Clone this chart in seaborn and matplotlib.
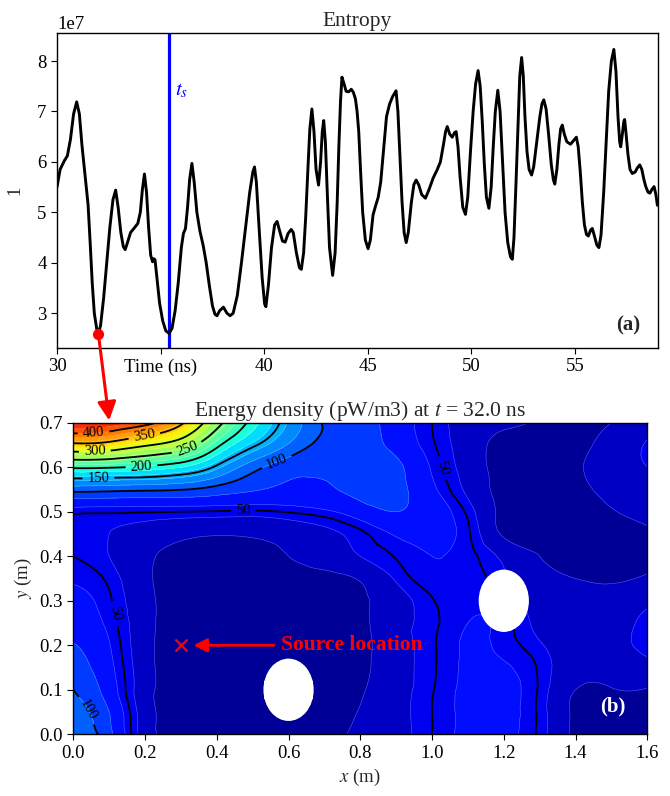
import numpy as np
import matplotlib
matplotlib.use("Agg")
import matplotlib.pyplot as plt
import matplotlib.tri as mtri
from matplotlib.patches import Circle, ConnectionPatch
import seaborn as sns

# ---------------- entropy time series ----------------
time_ns = [
    30.00, 30.15, 30.35, 30.50, 30.65, 30.80, 30.95, 31.08, 31.20, 31.35,
    31.50, 31.60, 31.70, 31.80, 31.92, 32.00, 32.10, 32.25, 32.40, 32.55,
    32.70, 32.83, 32.95, 33.08, 33.20, 33.29, 33.40, 33.55, 33.75, 33.90,
    34.02, 34.12, 34.22, 34.32, 34.42, 34.52, 34.61, 34.67, 34.73, 34.82,
    34.95, 35.10, 35.25, 35.41, 35.55, 35.70, 35.85, 36.00, 36.10, 36.20,
    36.30, 36.40, 36.51, 36.62, 36.75, 36.90, 37.05, 37.20, 37.35, 37.50,
    37.62, 37.72, 37.85, 38.03, 38.20, 38.35, 38.50, 38.70, 38.90, 39.10,
    39.30, 39.45, 39.53, 39.62, 39.75, 39.90, 40.02, 40.08, 40.20, 40.35,
    40.50, 40.62, 40.75, 40.88, 41.01, 41.15, 41.30, 41.40, 41.55, 41.70,
    41.79, 41.90, 42.00, 42.10, 42.20, 42.30, 42.40, 42.50, 42.62, 42.72,
    42.80, 42.87, 42.95, 43.05, 43.15, 43.30, 43.42, 43.52, 43.60, 43.68,
    43.75, 43.85, 43.95, 44.07, 44.20, 44.30, 44.40, 44.48, 44.56, 44.65,
    44.75, 44.88, 45.01, 45.12, 45.25, 45.36, 45.50, 45.62, 45.75, 45.90,
    46.05, 46.20, 46.36, 46.45, 46.55, 46.65, 46.75, 46.85, 46.95, 47.10,
    47.22, 47.33, 47.45, 47.60, 47.78, 47.95, 48.15, 48.34, 48.50, 48.65,
    48.75, 48.83, 48.95, 49.07, 49.18, 49.26, 49.35, 49.45, 49.58, 49.71,
    49.82, 49.95, 50.08, 50.20, 50.32, 50.42, 50.52, 50.62, 50.72, 50.84,
    50.95, 51.05, 51.15, 51.27, 51.38, 51.50, 51.62, 51.75, 51.88, 51.97,
    52.05, 52.15, 52.25, 52.33, 52.42, 52.50, 52.58, 52.68, 52.78, 52.90,
    53.00, 53.15, 53.30, 53.40, 53.49, 53.60, 53.72, 53.85, 53.95, 54.02,
    54.12, 54.22, 54.30, 54.38, 54.48, 54.60, 54.78, 54.92, 55.06, 55.15,
    55.25, 55.35, 55.45, 55.55, 55.64, 55.75, 55.83, 55.92, 56.05, 56.15,
    56.25, 56.38, 56.50, 56.62, 56.75, 56.87, 56.97, 57.07, 57.15, 57.20,
    57.28, 57.35, 57.39, 57.45, 57.55, 57.65, 57.76, 57.90, 58.00, 58.12,
    58.22, 58.32, 58.41, 58.52, 58.61, 58.70, 58.81, 58.90, 58.97,
]
entropy_1e7 = [
    5.50, 5.85, 6.02, 6.12, 6.45, 6.95, 7.19, 6.95, 6.35, 5.75,
    5.15, 4.40, 3.60, 3.00, 2.68, 2.60, 2.75, 3.30, 4.00, 4.70,
    5.25, 5.44, 5.10, 4.60, 4.32, 4.26, 4.40, 4.60, 4.70, 4.78,
    5.00, 5.45, 5.76, 5.40, 4.70, 4.15, 4.02, 4.08, 4.06, 3.70,
    3.20, 2.85, 2.65, 2.60, 2.70, 3.05, 3.60, 4.30, 4.58, 4.68,
    5.10, 5.65, 5.97, 5.60, 5.00, 4.62, 4.35, 4.00, 3.55, 3.15,
    2.98, 2.95, 3.05, 3.12, 3.00, 2.95, 3.00, 3.35, 4.00, 4.70,
    5.40, 5.80, 5.90, 5.60, 4.70, 3.70, 3.18, 3.13, 3.55, 4.30,
    4.75, 4.82, 4.62, 4.43, 4.41, 4.58, 4.66, 4.60, 4.20, 3.90,
    3.87, 4.20, 4.90, 5.80, 6.65, 7.05, 6.60, 5.85, 5.54, 6.00,
    6.60, 6.82, 6.40, 5.30, 4.30, 3.75, 4.20, 5.20, 6.30, 7.20,
    7.68, 7.55, 7.40, 7.39, 7.44, 7.38, 7.25, 7.00, 6.60, 5.80,
    5.00, 4.45, 4.28, 4.45, 4.95, 5.11, 5.30, 5.60, 6.20, 6.90,
    7.15, 7.30, 7.41, 7.00, 6.10, 5.20, 4.60, 4.40, 4.60, 5.20,
    5.55, 5.64, 5.55, 5.35, 5.28, 5.45, 5.68, 5.84, 6.00, 6.35,
    6.60, 6.70, 6.55, 6.49, 6.58, 6.60, 6.30, 5.70, 5.10, 4.96,
    5.30, 6.20, 7.00, 7.55, 7.81, 7.50, 6.80, 5.95, 5.30, 5.08,
    5.50, 6.30, 7.00, 7.42, 7.00, 6.00, 5.00, 4.40, 4.12, 4.07,
    4.50, 5.60, 6.80, 7.70, 8.07, 7.70, 6.90, 6.20, 5.85, 5.74,
    5.90, 6.40, 6.90, 7.15, 7.23, 7.05, 6.55, 5.95, 5.65, 5.56,
    5.85, 6.35, 6.65, 6.73, 6.55, 6.40, 6.35, 6.42, 6.49, 6.30,
    5.80, 5.20, 4.75, 4.56, 4.53, 4.65, 4.68, 4.55, 4.35, 4.30,
    4.55, 5.40, 6.40, 7.40, 8.00, 8.23, 7.80, 6.90, 6.40, 6.30,
    6.55, 6.80, 6.84, 6.60, 6.15, 5.85, 5.77, 5.80, 5.88, 5.94,
    5.85, 5.65, 5.51, 5.40, 5.38, 5.45, 5.51, 5.35, 5.14,
]
entropy = np.array(entropy_1e7) * 1e7

t_s = 35.42
snapshot_time = 32.0
snapshot_entropy = 2.58e7

top_xticks = [30, 35, 40, 45, 50, 55]
top_xticklabels = ["30", "Time (ns)", "40", "45", "50", "55"]

# ---------------- energy density snapshot (pW/m3) ----------------
grid_x = [0.0, 0.1, 0.2, 0.3, 0.4, 0.5, 0.6, 0.7, 0.8, 0.9, 1.0, 1.1, 1.2, 1.3, 1.4, 1.5, 1.6]
grid_y = [0.0, 0.05, 0.10, 0.15, 0.20, 0.25, 0.30, 0.35, 0.40, 0.45, 0.50, 0.55, 0.60, 0.65, 0.70]
energy_rows = [
    [118, 86, 31, 12, 10, 10, 10, 14, 24, 34, 50, 64, 64, 47, 16, 12, 12],
    [110, 80, 30, 11, 9, 9, 9, 12, 21, 34, 50, 64, 65, 47, 16, 13, 13],
    [100, 70, 28, 10, 8, 8, 8, 10, 18, 33, 49, 64, 65, 48, 20, 19, 19],
    [90, 65, 28, 10, 7, 7, 8, 10, 16, 32, 48, 63, 62, 48, 27, 27, 34],
    [81, 61, 27, 10, 7, 7, 8, 10, 15, 32, 48, 62, 56, 42, 28, 33, 44],
    [72, 56, 27, 11, 7, 8, 9, 11, 16, 33, 47, 60, 55, 35, 28, 33, 44],
    [65, 52, 26, 12, 8, 9, 10, 12, 17, 32, 49, 58, 50, 32, 26, 28, 36],
    [58, 47, 24, 13, 10, 11, 13, 15, 22, 42, 56, 56, 42, 26, 20, 18, 22],
    [50, 40, 24, 15, 14, 15, 20, 28, 40, 51, 60, 54, 36, 20, 15, 14, 16],
    [44, 40, 32, 24, 21, 22, 27, 35, 47, 62, 66, 52, 17, 12, 12, 14, 18],
    [53, 52, 51, 50, 49, 48, 51, 57, 70, 80, 70, 47, 14, 10, 13, 19, 24],
    [108, 106, 104, 101, 92, 82, 76, 78, 85, 85, 64, 36, 13, 9, 16, 24, 30],
    [205, 203, 195, 180, 145, 108, 88, 82, 86, 84, 58, 32, 12, 9, 18, 27, 40],
    [340, 333, 305, 275, 208, 155, 118, 93, 87, 74, 52, 30, 14, 11, 16, 26, 42],
    [445, 435, 412, 357, 265, 190, 138, 98, 88, 70, 50, 30, 24, 18, 14, 20, 30],
]
fill_levels = list(range(0, 501, 20))
line_levels = [50, 100, 150, 200, 250, 300, 350, 400]
label_points = [
    (0.057, 0.670), (0.20, 0.661), (0.06, 0.635), (0.32, 0.635),
    (0.19, 0.600), (0.07, 0.575), (0.567, 0.612), (0.474, 0.505),
    (1.036, 0.600), (0.118, 0.272), (0.047, 0.058),
]

obstacle_x = [0.6, 1.2]
obstacle_y = [0.1, 0.3]
obstacle_r = 0.07
source_x, source_y = 0.3, 0.2

# ---------------- style ----------------
sns.set_style("ticks")
plt.rcParams["font.family"] = ["Liberation Serif", "DejaVu Serif"]
plt.rcParams["mathtext.fontset"] = "stix"
plt.rcParams.update({
    "axes.edgecolor": "black",
    "axes.linewidth": 1.0,
    "xtick.color": "black",
    "ytick.color": "black",
    "xtick.major.size": 4,
    "ytick.major.size": 4,
    "xtick.labelsize": 13.5,
    "ytick.labelsize": 13.5,
})

fig = plt.figure(figsize=(6.70, 7.96), dpi=100)
ax_top = fig.add_axes([57 / 670, 1 - 348 / 796, 601 / 670, 315 / 796])
ax_bot = fig.add_axes([73.3 / 670, 1 - 734.3 / 796, 574 / 670, 311.6 / 796])

# ---------------- (a) entropy ----------------
sns.lineplot(x=time_ns, y=entropy, color="black", linewidth=2.1, ax=ax_top, zorder=3)
ax_top.axvline(t_s, color="blue", linewidth=2.3, zorder=2)
ax_top.text(t_s + 0.25, 7.33e7, r"$t_s$", color="blue", fontsize=15)
sns.scatterplot(x=[snapshot_time], y=[snapshot_entropy], color="red", s=65,
                edgecolor="red", linewidth=0, ax=ax_top, zorder=5)
ax_top.set_xlim(30, 59)
ax_top.set_ylim(2.31e7, 8.556e7)
ax_top.set_xticks(top_xticks)
ax_top.set_xticklabels(top_xticklabels)
ax_top.set_xlabel("")
ax_top.set_ylabel("1", fontsize=13.5, labelpad=10)
ax_top.yaxis.get_offset_text().set_fontsize(13.5)
ax_top.set_title("Entropy", fontsize=15.5, pad=5)
ax_top.text(0.95, 0.07, "(a)", transform=ax_top.transAxes, fontsize=15,
            fontweight="bold", ha="center", va="center")

# ---------------- (b) energy density ----------------
gx, gy = np.meshgrid(grid_x, grid_y)
energy = np.array(energy_rows, dtype=float)
tri = mtri.Triangulation(gx.ravel(), gy.ravel())
refiner = mtri.UniformTriRefiner(tri)
tri_f, energy_f = refiner.refine_field(energy.ravel(), subdiv=4)

cx = tri_f.x[tri_f.triangles].mean(axis=1)
cy = tri_f.y[tri_f.triangles].mean(axis=1)
inside = np.zeros(len(cx), dtype=bool)
for ox, oy in zip(obstacle_x, obstacle_y):
    inside |= (cx - ox) ** 2 + (cy - oy) ** 2 < obstacle_r ** 2
tri_f.set_mask(inside)

ax_bot.tricontourf(tri_f, energy_f, levels=fill_levels, cmap="jet", extend="both")
ax_bot.tricontour(tri_f, energy_f, levels=fill_levels, colors="white",
                  linewidths=0.4, alpha=0.35)
cs = ax_bot.tricontour(tri_f, energy_f, levels=line_levels, colors="black",
                       linewidths=1.3)
ax_bot.clabel(cs, fmt="%d", fontsize=10.5, inline=True, manual=label_points)

for ox, oy in zip(obstacle_x, obstacle_y):
    ax_bot.add_patch(Circle((ox, oy), obstacle_r, facecolor="white",
                            edgecolor="none", zorder=4))

sns.scatterplot(x=[source_x], y=[source_y], marker="x", color="red", s=75,
                linewidth=1.6, ax=ax_bot, zorder=6)
ax_bot.annotate("Source location", xy=(source_x + 0.035, source_y),
                xytext=(source_x + 0.28, source_y), color="red",
                fontsize=15.5, fontweight="bold", va="center", ha="left",
                arrowprops=dict(arrowstyle="-|>", color="red", lw=2,
                                mutation_scale=20, shrinkA=3, shrinkB=0),
                zorder=6)
ax_bot.text(1.505, 0.063, "(b)", color="white", fontsize=15,
            fontweight="bold", ha="center", va="center", zorder=6)

ax_bot.set_xlim(0, 1.6)
ax_bot.set_ylim(0, 0.7)
ax_bot.set_xticks(np.arange(0, 1.61, 0.2))
ax_bot.set_yticks(np.arange(0, 0.71, 0.1))
ax_bot.xaxis.set_major_formatter(matplotlib.ticker.FormatStrFormatter("%.1f"))
ax_bot.yaxis.set_major_formatter(matplotlib.ticker.FormatStrFormatter("%.1f"))
ax_bot.set_xlabel(r"$x$ (m)", fontsize=13.5)
ax_bot.set_ylabel(r"$y$ (m)", fontsize=13.5)
ax_bot.set_title(r"Energy density (pW/m3) at $t$ = 32.0 ns", fontsize=15.5, pad=5)
for sp in ax_bot.spines.values():
    sp.set_zorder(7)

# red arrow linking the marked instant to the snapshot
arrow = ConnectionPatch(xyA=(snapshot_time, snapshot_entropy), coordsA=ax_top.transData,
                        xyB=(0.1, 0.705), coordsB=ax_bot.transData,
                        arrowstyle="-|>", color="red", lw=2.2, mutation_scale=28,
                        shrinkA=0, shrinkB=0, zorder=10)
fig.add_artist(arrow)

fig.savefig("out.png", dpi=100)
